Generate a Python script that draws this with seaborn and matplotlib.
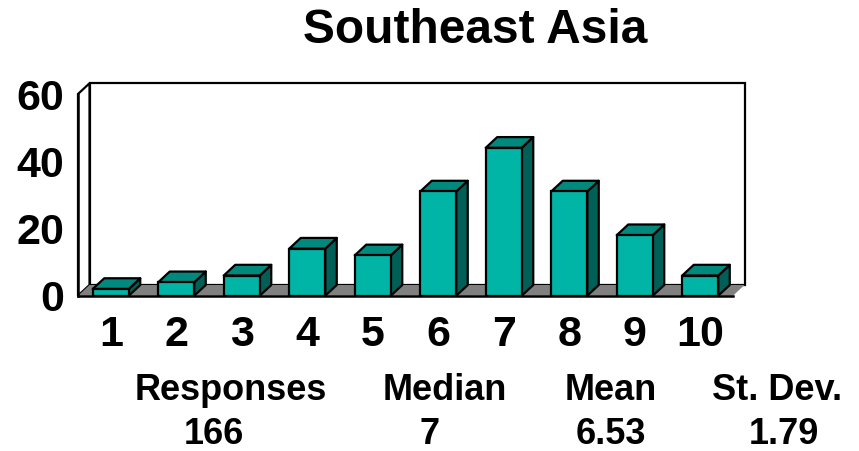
import matplotlib
matplotlib.use("Agg")
import matplotlib.pyplot as plt
from matplotlib.patches import Polygon
import seaborn as sns
import pandas as pd

# ---- data ----
categories = ["1", "2", "3", "4", "5", "6", "7", "8", "9", "10"]
counts = [2, 4, 6, 14, 12, 31, 44, 31, 18, 6]
yticks = [0, 20, 40, 60]
title = "Southeast Asia"
stat_labels = ["Responses", "Median", "Mean", "St. Dev."]
stat_values = ["166", "7", "6.53", "1.79"]

# ---- style ----
sns.set_style("white")
plt.rcParams["font.family"] = ["Liberation Sans", "DejaVu Sans"]
plt.rcParams["font.weight"] = "bold"
plt.rcParams["text.color"] = "black"
plt.rcParams["xtick.color"] = "black"
plt.rcParams["ytick.color"] = "black"

FRONT = "#00B5A6"
TOP = "#00897C"
SIDE = "#005F56"
FLOOR = "#808080"

fig = plt.figure(figsize=(8.59, 4.51), dpi=100)
ax = fig.add_axes([78 / 859, (451 - 295.7) / 451, 655 / 859, 201.7 / 451])

df = pd.DataFrame({"score": categories, "count": counts})
sns.barplot(data=df, x="score", y="count", order=categories, color=FRONT,
            saturation=1, width=0.55, edgecolor="black", linewidth=1.6,
            ax=ax, zorder=3)

ax.set_xlim(-0.5, len(categories) - 0.5)
ax.set_ylim(yticks[0], yticks[-1])

# depth offsets (pixels -> data units)
px_per_x = 655 / len(categories)
px_per_y = 201.7 / (yticks[-1] - yticks[0])
DX = 11.5 / px_per_x
DY = 10.7 / px_per_y

x0, x1 = ax.get_xlim()
y0, y1 = ax.get_ylim()

# back wall, left wall, floor
ax.add_patch(Polygon([(x0 + DX, y0 + DY), (x1 + DX, y0 + DY), (x1 + DX, y1 + DY), (x0 + DX, y1 + DY)],
                     closed=True, facecolor="white", edgecolor="black", lw=1.6, clip_on=False, zorder=0.5))
ax.add_patch(Polygon([(x0, y0), (x0, y1), (x0 + DX, y1 + DY), (x0 + DX, y0 + DY)],
                     closed=True, facecolor="white", edgecolor="black", lw=1.6, clip_on=False, zorder=0.6))
ax.add_patch(Polygon([(x0, y0), (x1, y0), (x1 + DX, y0 + DY), (x0 + DX, y0 + DY)],
                     closed=True, facecolor=FLOOR, edgecolor="none", clip_on=False, zorder=0.7))

# 3D faces of each bar, built from the seaborn bar patches
for p in list(ax.patches):
    if p.get_zorder() != 3:
        continue
    bx, bw, bh = p.get_x(), p.get_width(), p.get_height()
    side = [(bx + bw, 0), (bx + bw, bh), (bx + bw + DX, bh + DY), (bx + bw + DX, DY)]
    top = [(bx, bh), (bx + bw, bh), (bx + bw + DX, bh + DY), (bx + DX, bh + DY)]
    ax.add_patch(Polygon(side, closed=True, facecolor=SIDE, edgecolor="black", lw=1.6,
                         clip_on=False, zorder=2.8, joinstyle="round"))
    ax.add_patch(Polygon(top, closed=True, facecolor=TOP, edgecolor="black", lw=1.6,
                         clip_on=False, zorder=2.8, joinstyle="round"))

# axes and ticks
for s in ["top", "right"]:
    ax.spines[s].set_visible(False)
for s in ["left", "bottom"]:
    ax.spines[s].set_linewidth(1.8)
    ax.spines[s].set_color("black")
    ax.spines[s].set_zorder(4)

ax.set_yticks(yticks)
ax.set_yticklabels([str(v) for v in yticks], fontsize=31, fontweight="bold", color="black")
ax.tick_params(axis="y", which="major", direction="out", length=7, width=1.6, pad=3, colors="black")

ax.set_xticks(range(len(categories)))
ax.set_xticklabels(categories, fontsize=31, fontweight="bold", color="black")
ax.set_xticks([i - 0.5 for i in range(len(categories) + 1)], minor=True)
ax.tick_params(axis="x", which="major", length=0, pad=14, colors="black")
ax.tick_params(axis="x", which="minor", direction="out", length=7, width=1.6, colors="black")

ax.set_xlabel("")
ax.set_ylabel("")
ax.grid(False)

fig.text(475 / 859, (451 - 43) / 451, title, ha="center", va="baseline",
         fontsize=34.5, fontweight="bold", color="black")

label_x = [231, 445, 611, 777]
value_x = [214, 430, 611, 784]
for lx, vx, lab, val in zip(label_x, value_x, stat_labels, stat_values):
    fig.text(lx / 859, (451 - 400) / 451, lab, ha="center", va="baseline",
             fontsize=26, fontweight="bold", color="black")
    fig.text(vx / 859, (451 - 444.5) / 451, val, ha="center", va="baseline",
             fontsize=26, fontweight="bold", color="black")

fig.savefig("out.png", dpi=100, facecolor="white")
